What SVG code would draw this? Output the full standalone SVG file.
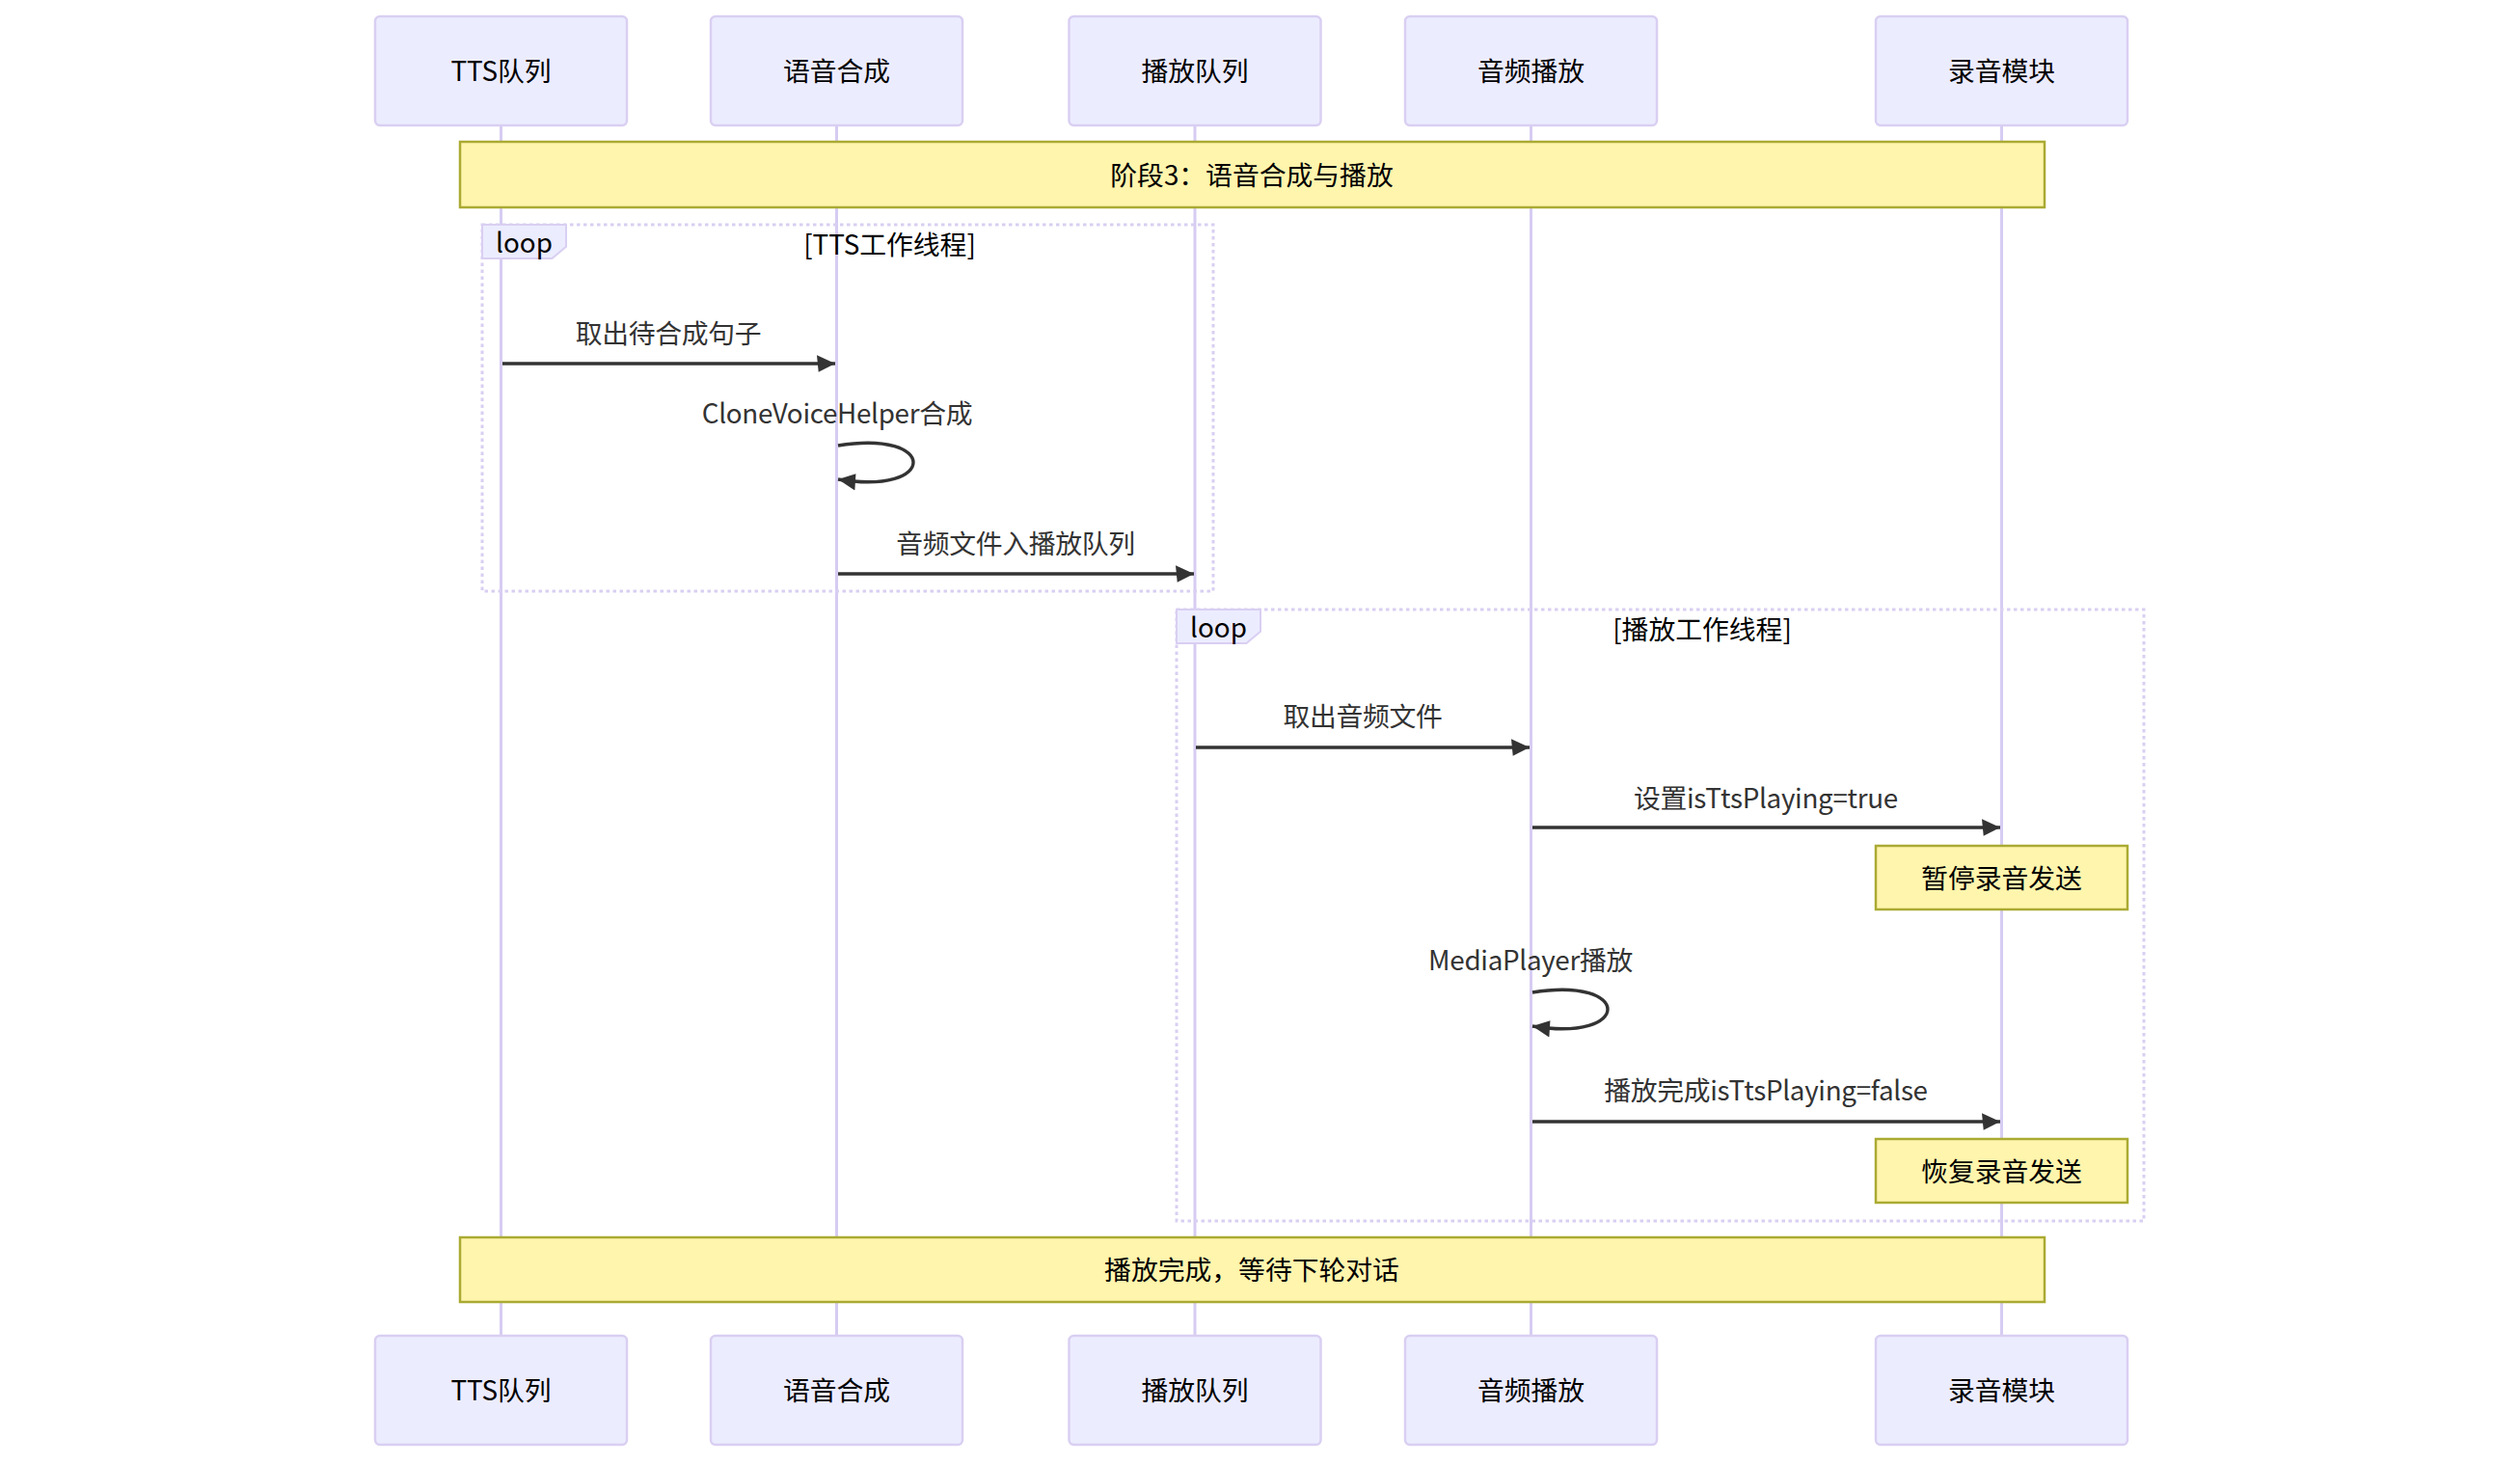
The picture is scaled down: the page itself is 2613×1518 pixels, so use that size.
<svg xmlns="http://www.w3.org/2000/svg" width="2613" height="1518" viewBox="0 0 2613 1518">
<style>
text{font-family:"Trebuchet MS","Noto Sans CJK SC",sans-serif;font-size:27.8px;text-anchor:middle;dominant-baseline:central}
.actor rect{fill:#ECECFF;stroke:#D9CFF2;stroke-width:2.5}
.actor text{fill:#000}
.life{stroke:#D6CCF2;stroke-width:3}
.note rect{fill:#FFF5AD;stroke:#AAAA33;stroke-width:2.5}
.note text{fill:#000}
.msg{stroke:#333;stroke-width:3.4;fill:none}
.mtxt{fill:#333;letter-spacing:-0.3px}
.loopbox{fill:none;stroke:#D9CFF2;stroke-width:3;stroke-dasharray:3.5 3.5}
.looplab{fill:#ECECFF;stroke:#D9CFF2;stroke-width:2}
.ltxt{fill:#000}
</style>
<defs>
<marker id="arrow" viewBox="-1 0 11 10" refX="10" refY="5" markerUnits="userSpaceOnUse" markerWidth="19" markerHeight="17.4" orient="auto">
<path d="M -1 0 L 10 5 L 0 10 z" fill="#333"/>
</marker>
</defs>
<rect width="2613" height="1518" fill="#fff"/>
<g id="lifelines">
<line class="life" x1="519.5" y1="130" x2="519.5" y2="1385"/>
<line class="life" x1="867.5" y1="130" x2="867.5" y2="1385"/>
<line class="life" x1="1239" y1="130" x2="1239" y2="1385"/>
<line class="life" x1="1587.5" y1="130" x2="1587.5" y2="1385"/>
<line class="life" x1="2075.5" y1="130" x2="2075.5" y2="1385"/>
</g>
<g id="actor-tts-top" class="actor"><rect x="389" y="17" width="261" height="113" rx="5"/><text x="519.5" y="72">TTS队列</text></g>
<g id="actor-synth-top" class="actor"><rect x="737" y="17" width="261" height="113" rx="5"/><text x="867.5" y="72">语音合成</text></g>
<g id="actor-playq-top" class="actor"><rect x="1108.5" y="17" width="261" height="113" rx="5"/><text x="1239" y="72">播放队列</text></g>
<g id="actor-audio-top" class="actor"><rect x="1457" y="17" width="261" height="113" rx="5"/><text x="1587.5" y="72">音频播放</text></g>
<g id="actor-rec-top" class="actor"><rect x="1945" y="17" width="261" height="113" rx="5"/><text x="2075.5" y="72">录音模块</text></g>
<g id="note-stage3" class="note"><rect x="477" y="147" width="1643" height="68"/><text x="1298" y="179.5">阶段3：语音合成与播放</text></g>
<g id="loop-tts">
<rect class="loopbox" x="500" y="233" width="758" height="380"/>
<polygon class="looplab" points="500,233 587,233 587,255.8 572.4,268 500,268"/>
<text class="ltxt" x="543.5" y="250">loop</text>
<text class="ltxt" x="922.5" y="251.5">[TTS工作线程]</text>
</g>
<g id="loop-play">
<rect class="loopbox" x="1220" y="632" width="1003" height="634"/>
<polygon class="looplab" points="1220,632 1307,632 1307,654.8 1292.4,667 1220,667"/>
<text class="ltxt" x="1263.5" y="649">loop</text>
<text class="ltxt" x="1765" y="650.5">[播放工作线程]</text>
</g>
<g id="note-pause" class="note"><rect x="1945" y="877" width="261" height="66"/><text x="2075.5" y="908.5">暂停录音发送</text></g>
<g id="note-resume" class="note"><rect x="1945" y="1181" width="261" height="66"/><text x="2075.5" y="1212.5">恢复录音发送</text></g>
<g id="note-done" class="note"><rect x="477" y="1283" width="1643" height="67"/><text x="1298" y="1314.5">播放完成，等待下轮对话</text></g>
<g id="connectors">
<line class="msg" x1="521" y1="377" x2="866" y2="377" marker-end="url(#arrow)"/>
<text class="mtxt" x="693" y="343.5">取出待合成句子</text>
<path class="msg" d="M 869 462 C 973 445 973 514 869 497" marker-end="url(#arrow)"/>
<text class="mtxt" x="868" y="426.5">CloneVoiceHelper合成</text>
<line class="msg" x1="869" y1="595" x2="1238" y2="595" marker-end="url(#arrow)"/>
<text class="mtxt" x="1053" y="561.5">音频文件入播放队列</text>
<line class="msg" x1="1240" y1="775" x2="1586" y2="775" marker-end="url(#arrow)"/>
<text class="mtxt" x="1413" y="740.5">取出音频文件</text>
<line class="msg" x1="1589" y1="858" x2="2074" y2="858" marker-end="url(#arrow)"/>
<text class="mtxt" x="1831" y="825.5">设置isTtsPlaying=true</text>
<path class="msg" d="M 1589 1029 C 1693 1012 1693 1081 1589 1064" marker-end="url(#arrow)"/>
<text class="mtxt" x="1587" y="993.5">MediaPlayer播放</text>
<line class="msg" x1="1589" y1="1163" x2="2074" y2="1163" marker-end="url(#arrow)"/>
<text class="mtxt" x="1831" y="1128.5">播放完成isTtsPlaying=false</text>
</g>
<g id="actor-tts-bottom" class="actor"><rect x="389" y="1385" width="261" height="113" rx="5"/><text x="519.5" y="1440">TTS队列</text></g>
<g id="actor-synth-bottom" class="actor"><rect x="737" y="1385" width="261" height="113" rx="5"/><text x="867.5" y="1440">语音合成</text></g>
<g id="actor-playq-bottom" class="actor"><rect x="1108.5" y="1385" width="261" height="113" rx="5"/><text x="1239" y="1440">播放队列</text></g>
<g id="actor-audio-bottom" class="actor"><rect x="1457" y="1385" width="261" height="113" rx="5"/><text x="1587.5" y="1440">音频播放</text></g>
<g id="actor-rec-bottom" class="actor"><rect x="1945" y="1385" width="261" height="113" rx="5"/><text x="2075.5" y="1440">录音模块</text></g>
</svg>
